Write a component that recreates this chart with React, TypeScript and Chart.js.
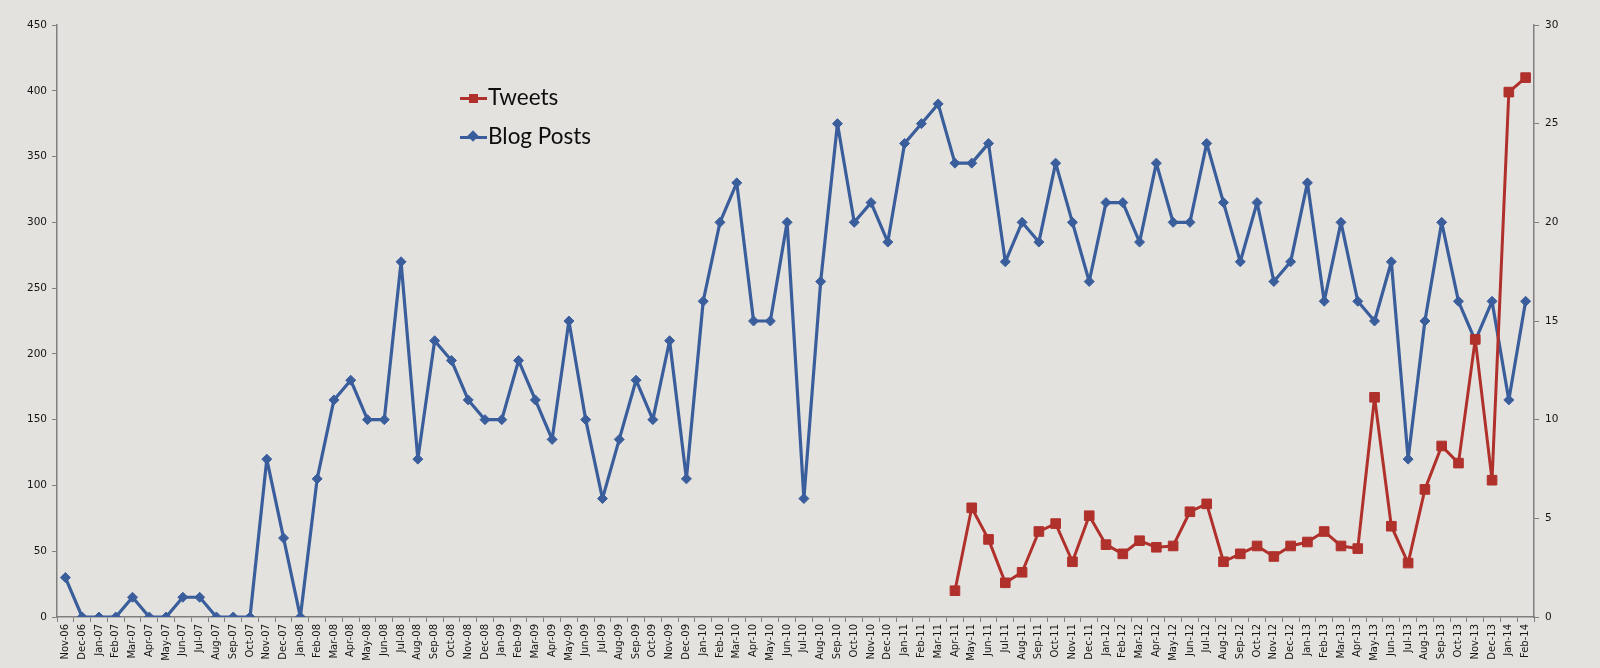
import React, { useEffect, useRef } from "react";
import { Chart, registerables } from "chart.js";

Chart.register(...registerables);

const months: string[] = [
  "Nov-06", "Dec-06",
  "Jan-07", "Feb-07", "Mar-07", "Apr-07", "May-07", "Jun-07", "Jul-07", "Aug-07", "Sep-07", "Oct-07", "Nov-07", "Dec-07",
  "Jan-08", "Feb-08", "Mar-08", "Apr-08", "May-08", "Jun-08", "Jul-08", "Aug-08", "Sep-08", "Oct-08", "Nov-08", "Dec-08",
  "Jan-09", "Feb-09", "Mar-09", "Apr-09", "May-09", "Jun-09", "Jul-09", "Aug-09", "Sep-09", "Oct-09", "Nov-09", "Dec-09",
  "Jan-10", "Feb-10", "Mar-10", "Apr-10", "May-10", "Jun-10", "Jul-10", "Aug-10", "Sep-10", "Oct-10", "Nov-10", "Dec-10",
  "Jan-11", "Feb-11", "Mar-11", "Apr-11", "May-11", "Jun-11", "Jul-11", "Aug-11", "Sep-11", "Oct-11", "Nov-11", "Dec-11",
  "Jan-12", "Feb-12", "Mar-12", "Apr-12", "May-12", "Jun-12", "Jul-12", "Aug-12", "Sep-12", "Oct-12", "Nov-12", "Dec-12",
  "Jan-13", "Feb-13", "Mar-13", "Apr-13", "May-13", "Jun-13", "Jul-13", "Aug-13", "Sep-13", "Oct-13", "Nov-13", "Dec-13",
  "Jan-14", "Feb-14",
];

// Blog posts per month (right axis, 0-30)
const blogPosts: number[] = [
  2, 0,
  0, 0, 1, 0, 0, 1, 1, 0, 0, 0, 8, 4,
  0, 7, 11, 12, 10, 10, 18, 8, 14, 13, 11, 10,
  10, 13, 11, 9, 15, 10, 6, 9, 12, 10, 14, 7,
  16, 20, 22, 15, 15, 20, 6, 17, 25, 20, 21, 19,
  24, 25, 26, 23, 23, 24, 18, 20, 19, 23, 20, 17,
  21, 21, 19, 23, 20, 20, 24, 21, 18, 21, 17, 18,
  22, 16, 20, 16, 15, 18, 8, 15, 20, 16, 14, 16,
  11, 16,
];

// Tweets per month (left axis, 0-450), starting Apr-11
const tweetsFromApr11: number[] = [
  20, 83, 59, 26, 34, 65, 71, 42, 77,
  55, 48, 58, 53, 54, 80, 86, 42, 48, 54, 46, 54,
  57, 65, 54, 52, 167, 69, 41, 97, 130, 117, 211, 104,
  399, 410,
];

const tweets: (number | null)[] = [
  ...months.slice(0, months.length - tweetsFromApr11.length).map(() => null),
  ...tweetsFromApr11,
];

const leftTicks: number[] = [0, 50, 100, 150, 200, 250, 300, 350, 400, 450];
const rightTicks: number[] = [0, 5, 10, 15, 20, 25, 30];

const RED = "#b0302b";
const BLUE = "#3a5e9c";
const AXIS = "#7f7f7f";
const TEXT = "#151515";
const BG = "#e4e2de";

export default function App() {
  const canvasRef = useRef<HTMLCanvasElement | null>(null);

  useEffect(() => {
    if (!canvasRef.current) return;
    const tickFont = { family: "'DejaVu Sans', Verdana, sans-serif", size: 10.5 };
    const chart = new Chart(canvasRef.current, {
      type: "line",
      data: {
        labels: months,
        datasets: [
          {
            label: "Tweets",
            data: tweets,
            yAxisID: "y",
            borderColor: RED,
            backgroundColor: RED,
            borderWidth: 3,
            borderJoinStyle: "round",
            borderCapStyle: "round",
            pointStyle: "rect",
            pointRadius: 6.8,
            pointBorderWidth: 1,
            pointBorderColor: RED,
            pointBackgroundColor: RED,
            tension: 0,
            spanGaps: false,
          },
          {
            label: "Blog Posts",
            data: blogPosts,
            yAxisID: "y1",
            borderColor: BLUE,
            backgroundColor: BLUE,
            borderWidth: 3.2,
            borderJoinStyle: "round",
            borderCapStyle: "round",
            pointStyle: "rectRot",
            pointRadius: 5,
            pointBorderWidth: 1,
            pointBorderColor: BLUE,
            pointBackgroundColor: BLUE,
            tension: 0,
          },
        ],
      },
      options: {
        animation: false,
        responsive: true,
        maintainAspectRatio: false,
        layout: { padding: { top: 25, left: 0, right: 0, bottom: 0 } },
        plugins: {
          legend: { display: false },
          tooltip: { enabled: false },
        },
        scales: {
          x: {
            type: "category",
            offset: true,
            grid: {
              display: true,
              offset: true,
              drawOnChartArea: false,
              drawTicks: true,
              tickLength: 5,
              color: AXIS,
              lineWidth: 1,
            },
            border: { color: AXIS, width: 1.5 },
            ticks: {
              autoSkip: false,
              maxRotation: 90,
              minRotation: 90,
              padding: 2,
              color: TEXT,
              font: { family: "'DejaVu Sans', Verdana, sans-serif", size: 10 },
            },
            afterFit: (scale: any) => {
              scale.height = 51;
            },
          },
          y: {
            position: "left",
            min: 0,
            max: 450,
            afterBuildTicks: (scale: any) => {
              scale.ticks = leftTicks.map((v) => ({ value: v }));
            },
            grid: {
              display: true,
              drawOnChartArea: false,
              drawTicks: true,
              tickLength: 5,
              color: AXIS,
            },
            border: { color: AXIS, width: 1.5 },
            ticks: { color: TEXT, font: tickFont, padding: 5 },
            afterFit: (scale: any) => {
              scale.width = 57;
            },
          },
          y1: {
            position: "right",
            min: 0,
            max: 30,
            afterBuildTicks: (scale: any) => {
              scale.ticks = rightTicks.map((v) => ({ value: v }));
            },
            grid: {
              display: true,
              drawOnChartArea: false,
              drawTicks: true,
              tickLength: 5,
              color: AXIS,
            },
            border: { color: AXIS, width: 1.5 },
            ticks: { color: TEXT, font: tickFont, padding: 6 },
            afterFit: (scale: any) => {
              scale.width = 66;
            },
          },
        },
      },
    });
    return () => chart.destroy();
  }, []);

  const legendText: React.CSSProperties = {
    position: "absolute",
    fontFamily: "Lato, 'Open Sans', sans-serif",
    fontSize: 22.5,
    color: "#0d0d0d",
    lineHeight: "26px",
    whiteSpace: "nowrap",
  };

  return (
    <div
      style={{
        position: "absolute",
        left: 0,
        top: 0,
        width: 1600,
        height: 668,
        background: BG,
        overflow: "hidden",
      }}
    >
      <canvas ref={canvasRef} style={{ width: "100%", height: "100%" }} />
      {/* Legend */}
      <div style={{ position: "absolute", left: 460, top: 96.5, width: 27, height: 3, background: RED }} />
      <div style={{ position: "absolute", left: 468.5, top: 93.5, width: 9, height: 9, background: RED }} />
      <div style={{ ...legendText, left: 488, top: 84 }}>Tweets</div>
      <div style={{ position: "absolute", left: 460, top: 135.5, width: 27, height: 3, background: BLUE }} />
      <div
        style={{
          position: "absolute",
          left: 469,
          top: 132,
          width: 8,
          height: 8,
          background: BLUE,
          transform: "rotate(45deg)",
        }}
      />
      <div style={{ ...legendText, left: 488, top: 123 }}>Blog Posts</div>
    </div>
  );
}
